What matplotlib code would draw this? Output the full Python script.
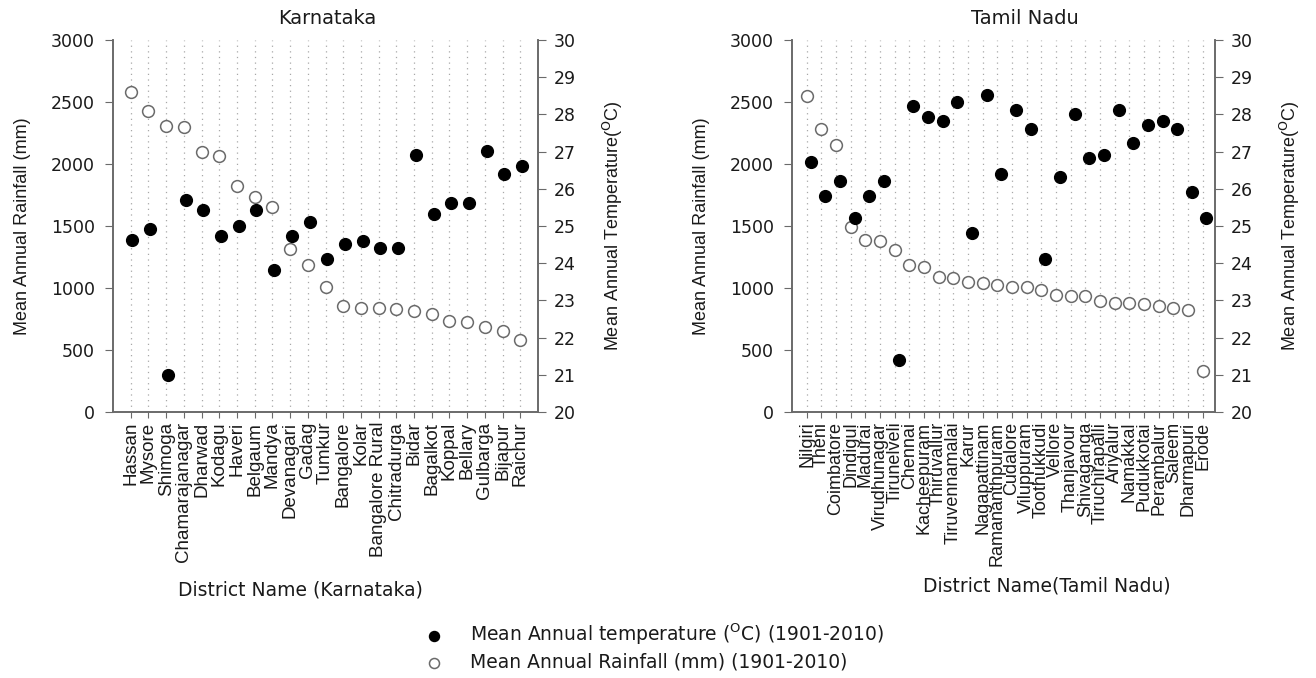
import matplotlib
matplotlib.use('Agg')
import matplotlib.pyplot as plt
import numpy as np

plt.rcParams['font.family'] = ['DejaVu Sans']
plt.rcParams['mathtext.fontset'] = 'custom'
plt.rcParams['mathtext.rm'] = 'DejaVu Sans'
plt.rcParams['mathtext.it'] = 'DejaVu Sans:italic'
plt.rcParams['mathtext.bf'] = 'DejaVu Sans:bold'

NARROW = ['Liberation Sans', 'DejaVu Sans']

# ---------------- data ----------------
kar_districts = ["Hassan", "Mysore", "Shimoga", "Chamarajanagar", "Dharwad", "Kodagu",
                 "Haveri", "Belgaum", "Mandya", "Devanagari", "Gadag", "Tumkur",
                 "Bangalore", "Kolar", "Bangalore Rural", "Chitradurga", "Bidar",
                 "Bagalkot", "Koppal", "Bellary", "Gulbarga", "Bijapur", "Raichur"]
kar_rain = [2580, 2424, 2306, 2295, 2099, 2064, 1824, 1735, 1655, 1313, 1189, 1009,
            853, 842, 842, 834, 815, 788, 735, 724, 686, 656, 578]
kar_temp = [24.62, 24.91, 21.0, 25.71, 25.42, 24.72, 25.01, 25.42, 23.81, 24.72, 25.11,
            24.12, 24.52, 24.61, 24.41, 24.41, 26.91, 25.32, 25.61, 25.61, 27.02, 26.41, 26.62]

tn_districts = ["Nilgiri", "Theni", "Coimbatore", "Dindigul", "Madurai", "Virudhunagar",
                "Tirunelveli", "Chennai", "Kacheepuram", "Thiruvallur", "Tiruvennamalai",
                "Karur", "Nagapattinam", "Ramananthpuram", "Cudalore", "Viluppuram",
                "Toothukkudi", "Vellore", "Thanjavour", "Shivaganga", "Tiruchirapalli",
                "Ariyalur", "Namakkal", "Pudukkotai", "Perambalur", "Saleem",
                "Dharmapuri", "Erode"]
tn_rain = [2551, 2282, 2152, 1488, 1391, 1380, 1305, 1184, 1170, 1090, 1082, 1049, 1044,
           1022, 1009, 1009, 987, 947, 936, 936, 893, 880, 880, 874, 853, 839, 826, 331]
tn_temp = [26.71, 25.81, 26.22, 25.22, 25.81, 26.22, 21.41, 28.22, 27.92, 27.82, 28.32,
           24.82, 28.52, 26.41, 28.12, 27.61, 24.12, 26.32, 28.01, 26.82, 26.91, 28.12,
           27.22, 27.71, 27.82, 27.61, 25.92, 25.22]

rain_ticks = [0, 500, 1000, 1500, 2000, 2500, 3000]
temp_ticks = list(range(20, 31))

label_temp = "Mean Annual temperature ($^{\\mathrm{O}}$C) (1901-2010)"
label_rain = "Mean Annual Rainfall (mm) (1901-2010)"

W, H = 1316, 678
fig = plt.figure(figsize=(W / 100, H / 100), dpi=100)

SPINE = '#6a6a6a'
TXT = '#1a1a1a'


def panel(left_px, right_px, names, rain, temp, xmax, offset, cat_fs):
    rect = [left_px / W, 1 - 412 / H, (right_px - left_px) / W, (412 - 40) / H]
    ax = fig.add_axes(rect)
    x = np.arange(len(names))
    for xi in x:
        ax.axvline(xi, color='#a8a8a8', lw=0.9, ls=(0, (1, 3.5)), zorder=0)
    h_rain = ax.scatter(x, rain, s=72, facecolors='white', edgecolors='#6a6a6a',
                        linewidths=1.1, zorder=3, label=label_rain)
    ax.set_xlim(-1, xmax)
    ax.set_ylim(0, 3000)
    ax.set_yticks(rain_ticks)
    ax.set_xticks(x)
    ax.set_xticklabels(names, rotation=90, fontsize=cat_fs, va='top', ha='center',
                       family=NARROW, color=TXT)
    ax.tick_params(axis='y', labelsize=12.5, length=6, pad=7, color=SPINE, labelcolor=TXT)
    ax.tick_params(axis='x', length=4, pad=3, color=SPINE)
    ax.set_ylabel("Mean Annual Rainfall (mm)", fontsize=13, labelpad=14,
                  family=NARROW, color=TXT)
    ax.spines['top'].set_visible(False)
    for s in ['left', 'bottom', 'right']:
        ax.spines[s].set_color(SPINE)
        ax.spines[s].set_linewidth(1.2)

    ax2 = ax.twinx()
    h_temp = ax2.scatter(x + offset, temp, s=72, color='black', zorder=4, label=label_temp)
    ax2.set_ylim(20, 30)
    ax2.set_yticks(temp_ticks)
    ax2.tick_params(axis='y', labelsize=12.5, length=6, pad=5, color=SPINE, labelcolor=TXT)
    ax2.spines['top'].set_visible(False)
    for s in ['left', 'bottom', 'right']:
        ax2.spines[s].set_color(SPINE)
        ax2.spines[s].set_linewidth(1.2)
    ax2.set_ylabel("Mean Annual Temperature($^{\\mathrm{O}}$C)", fontsize=13, labelpad=18,
                   color=TXT)
    ax2.yaxis.label.set_family(NARROW)
    return ax, ax2, h_temp, h_rain


axK, axK2, h_temp, h_rain = panel(113, 538, kar_districts, kar_rain, kar_temp,
                                  23, 0.1, 13.5)
axT, axT2, _, _ = panel(792, 1215, tn_districts, tn_rain, tn_temp,
                        27.85, 0.27, 13)

fig.text(327 / W, 1 - 19 / H, "Karnataka", fontsize=14, ha='center', va='center', color=TXT)
fig.text(1025 / W, 1 - 19 / H, "Tamil Nadu", fontsize=14, ha='center', va='center', color=TXT)

fig.text(300 / W, 1 - 590 / H, "District Name (Karnataka)", fontsize=13.5,
         ha='center', va='center', color=TXT)
fig.text(1047 / W, 1 - 586 / H, "District Name(Tamil Nadu)", fontsize=13.5,
         ha='center', va='center', color=TXT)

leg = fig.legend([h_temp, h_rain], [label_temp, label_rain], loc='upper left',
                 bbox_to_anchor=(398 / W, 1 - 605 / H), frameon=False, fontsize=13.5,
                 handletextpad=0.95, labelspacing=0.3, markerscale=0.85)
for t in leg.get_texts():
    t.set_color(TXT)

fig.savefig("out.png", dpi=100)
